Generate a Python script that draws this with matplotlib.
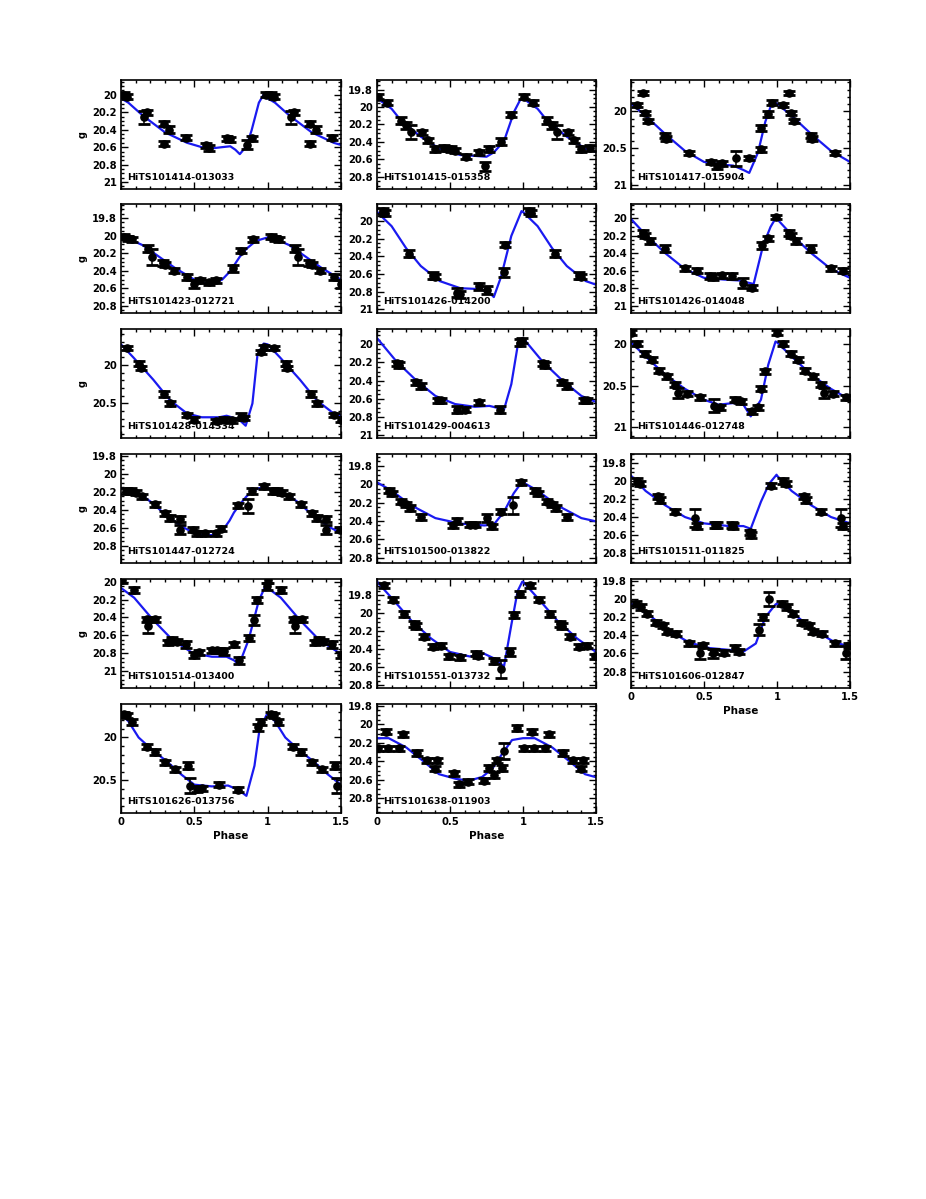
import numpy as np
import matplotlib
matplotlib.use("Agg")
import matplotlib.pyplot as plt
from matplotlib.ticker import MultipleLocator, FuncFormatter

# ---- light curve data (phase in [0,1), g mag, error) + fitted template knots ----
names = ["HiTS101414-013033", "HiTS101415-015358", "HiTS101417-015904",
         "HiTS101423-012721", "HiTS101426-014200", "HiTS101426-014048",
         "HiTS101428-014334", "HiTS101429-004613", "HiTS101446-012748",
         "HiTS101447-012724", "HiTS101500-013822", "HiTS101511-011825",
         "HiTS101514-013400", "HiTS101551-013732", "HiTS101606-012847",
         "HiTS101626-013756", "HiTS101638-011903"]

p01_ph = [0.02, 0.04, 0.16, 0.18, 0.29, 0.29, 0.33, 0.44, 0.58, 0.60, 0.72, 0.74, 0.86, 0.89, 0.99]
p01_mag = [20.00, 20.02, 20.26, 20.20, 20.33, 20.56, 20.40, 20.49, 20.58, 20.61, 20.50, 20.51, 20.57, 20.50, 20.00]
p01_err = [0.03, 0.03, 0.08, 0.03, 0.03, 0.03, 0.04, 0.03, 0.03, 0.03, 0.03, 0.03, 0.05, 0.03, 0.03]
p01_cph = [0.0, 0.05, 0.15, 0.30, 0.45, 0.59, 0.69, 0.745, 0.78, 0.81, 0.855, 0.89, 0.94, 0.975]
p01_cmag = [20.04, 20.09, 20.24, 20.43, 20.55, 20.62, 20.60, 20.59, 20.63, 20.68, 20.59, 20.41, 20.09, 19.99]

p02_ph = [0.01, 0.067, 0.167, 0.20, 0.234, 0.31, 0.35, 0.40, 0.46, 0.51, 0.535, 0.61, 0.70, 0.74, 0.77, 0.85, 0.92]
p02_mag = [19.88, 19.95, 20.16, 20.21, 20.29, 20.29, 20.38, 20.48, 20.47, 20.48, 20.50, 20.57, 20.52, 20.68, 20.48, 20.40, 20.09]
p02_err = [0.03, 0.03, 0.04, 0.04, 0.08, 0.03, 0.03, 0.03, 0.03, 0.03, 0.03, 0.03, 0.03, 0.05, 0.03, 0.04, 0.03]
p02_cph = [0.0, 0.1, 0.167, 0.3, 0.43, 0.57, 0.67, 0.75, 0.80, 0.87, 0.94, 0.98]
p02_cmag = [19.90, 20.02, 20.16, 20.34, 20.48, 20.55, 20.56, 20.57, 20.52, 20.39, 20.05, 19.92]

p03_ph = [0.04, 0.084, 0.094, 0.117, 0.235, 0.24, 0.40, 0.55, 0.59, 0.62, 0.72, 0.805, 0.89, 0.89, 0.94, 0.966]
p03_mag = [19.91, 19.75, 20.02, 20.13, 20.33, 20.37, 20.57, 20.69, 20.75, 20.71, 20.64, 20.64, 20.52, 20.23, 20.03, 19.88]
p03_err = [0.03, 0.03, 0.03, 0.03, 0.03, 0.03, 0.03, 0.03, 0.03, 0.03, 0.10, 0.03, 0.03, 0.04, 0.04, 0.03]
p03_cph = [0.0, 0.117, 0.235, 0.37, 0.5, 0.64, 0.70, 0.77, 0.81, 0.87, 0.92, 0.966]
p03_cmag = [19.89, 20.09, 20.31, 20.54, 20.69, 20.73, 20.74, 20.80, 20.84, 20.56, 20.14, 19.88]

p04_ph = [0.023, 0.05, 0.077, 0.185, 0.21, 0.285, 0.30, 0.36, 0.45, 0.50, 0.54, 0.60, 0.65, 0.765, 0.815, 0.90]
p04_mag = [20.01, 20.03, 20.04, 20.15, 20.24, 20.31, 20.33, 20.40, 20.47, 20.55, 20.51, 20.53, 20.51, 20.37, 20.17, 20.04]
p04_err = [0.03, 0.03, 0.03, 0.04, 0.09, 0.03, 0.03, 0.03, 0.03, 0.04, 0.03, 0.03, 0.03, 0.04, 0.03, 0.03]
p04_cph = [0.0, 0.07, 0.15, 0.285, 0.37, 0.45, 0.52, 0.59, 0.64, 0.69, 0.73, 0.77, 0.81, 0.855, 0.92, 0.98]
p04_cmag = [20.02, 20.05, 20.11, 20.27, 20.37, 20.45, 20.52, 20.55, 20.53, 20.50, 20.43, 20.34, 20.24, 20.15, 20.06, 20.03]

p05_ph = [0.04, 0.055, 0.217, 0.385, 0.40, 0.545, 0.57, 0.70, 0.75, 0.87, 0.88]
p05_mag = [19.89, 19.91, 20.37, 20.62, 20.63, 20.81, 20.83, 20.74, 20.78, 20.58, 20.27]
p05_err = [0.03, 0.03, 0.04, 0.04, 0.03, 0.05, 0.04, 0.04, 0.04, 0.05, 0.03]
p05_cph = [0.0, 0.1, 0.2, 0.3, 0.43, 0.57, 0.70, 0.77, 0.80, 0.85, 0.92, 0.99]
p05_cmag = [19.90, 20.06, 20.31, 20.51, 20.68, 20.76, 20.77, 20.81, 20.86, 20.63, 20.17, 19.89]

p06_ph = [0.084, 0.094, 0.127, 0.235, 0.37, 0.45, 0.54, 0.56, 0.62, 0.69, 0.765, 0.83, 0.90, 0.94, 0.995]
p06_mag = [20.17, 20.20, 20.26, 20.35, 20.57, 20.60, 20.66, 20.67, 20.65, 20.66, 20.74, 20.79, 20.31, 20.23, 19.99]
p06_err = [0.03, 0.03, 0.03, 0.04, 0.03, 0.03, 0.03, 0.03, 0.03, 0.03, 0.06, 0.03, 0.04, 0.03, 0.02]
p06_cph = [0.0, 0.1, 0.235, 0.37, 0.5, 0.64, 0.74, 0.79, 0.84, 0.905, 0.956, 0.995]
p06_cmag = [20.01, 20.19, 20.40, 20.58, 20.68, 20.70, 20.71, 20.73, 20.75, 20.31, 20.10, 19.99]

p07_ph = [0.044, 0.124, 0.134, 0.295, 0.335, 0.45, 0.50, 0.65, 0.70, 0.76, 0.815, 0.84, 0.956, 0.973]
p07_mag = [19.78, 19.98, 20.04, 20.375, 20.50, 20.65, 20.71, 20.73, 20.71, 20.72, 20.67, 20.69, 19.83, 19.77]
p07_err = [0.03, 0.03, 0.03, 0.04, 0.03, 0.03, 0.03, 0.03, 0.03, 0.03, 0.04, 0.03, 0.03, 0.03]
p07_cph = [0.0, 0.084, 0.22, 0.335, 0.45, 0.55, 0.67, 0.72, 0.805, 0.85, 0.896, 0.93, 0.973]
p07_cmag = [19.73, 19.90, 20.19, 20.46, 20.63, 20.68, 20.68, 20.66, 20.71, 20.79, 20.50, 19.875, 19.72]

p08_ph = [0.134, 0.15, 0.27, 0.30, 0.42, 0.435, 0.55, 0.60, 0.70, 0.84, 0.977, 0.995]
p08_mag = [20.21, 20.23, 20.42, 20.46, 20.62, 20.62, 20.72, 20.72, 20.64, 20.72, 19.98, 19.96]
p08_err = [0.03, 0.03, 0.03, 0.03, 0.03, 0.03, 0.04, 0.03, 0.03, 0.04, 0.04, 0.03]
p08_cph = [0.0, 0.134, 0.27, 0.40, 0.535, 0.67, 0.77, 0.87, 0.92, 0.963, 0.995]
p08_cmag = [19.93, 20.19, 20.40, 20.57, 20.66, 20.69, 20.68, 20.72, 20.44, 20.02, 19.93]

p09_ph = [0.0, 0.04, 0.094, 0.144, 0.195, 0.245, 0.30, 0.32, 0.386, 0.47, 0.57, 0.61, 0.71, 0.755, 0.83, 0.87, 0.89, 0.92]
p09_mag = [19.865, 20.0, 20.115, 20.19, 20.32, 20.385, 20.49, 20.59, 20.60, 20.64, 20.74, 20.76, 20.67, 20.69, 20.81, 20.76, 20.54, 20.33]
p09_err = [0.03, 0.03, 0.03, 0.03, 0.03, 0.03, 0.03, 0.06, 0.03, 0.03, 0.08, 0.03, 0.03, 0.03, 0.03, 0.03, 0.03, 0.03]
p09_cph = [0.0, 0.1, 0.235, 0.37, 0.5, 0.60, 0.70, 0.77, 0.82, 0.89, 0.94, 0.99]
p09_cmag = [19.98, 20.15, 20.37, 20.54, 20.67, 20.73, 20.71, 20.73, 20.87, 20.67, 20.25, 19.97]

p10_ph = [0.034, 0.067, 0.10, 0.144, 0.23, 0.30, 0.335, 0.40, 0.40, 0.49, 0.52, 0.57, 0.65, 0.68, 0.80, 0.866, 0.89, 0.973]
p10_mag = [20.19, 20.19, 20.21, 20.25, 20.34, 20.44, 20.49, 20.50, 20.62, 20.62, 20.66, 20.66, 20.66, 20.61, 20.35, 20.36, 20.19, 20.14]
p10_err = [0.03, 0.03, 0.03, 0.03, 0.03, 0.03, 0.03, 0.03, 0.05, 0.03, 0.03, 0.03, 0.03, 0.03, 0.03, 0.08, 0.03, 0.03]
p10_cph = [0.0, 0.07, 0.15, 0.22, 0.285, 0.36, 0.42, 0.49, 0.55, 0.62, 0.705, 0.74, 0.77, 0.81, 0.856, 0.90, 0.94, 0.97]
p10_cmag = [20.16, 20.19, 20.25, 20.33, 20.43, 20.52, 20.59, 20.65, 20.68, 20.68, 20.60, 20.52, 20.43, 20.34, 20.25, 20.19, 20.16, 20.15]

p11_ph = [0.084, 0.10, 0.167, 0.20, 0.227, 0.30, 0.52, 0.55, 0.635, 0.67, 0.75, 0.79, 0.85, 0.93, 0.987]
p11_mag = [20.07, 20.10, 20.19, 20.22, 20.26, 20.36, 20.45, 20.40, 20.44, 20.44, 20.37, 20.46, 20.30, 20.23, 19.98]
p11_err = [0.03, 0.03, 0.03, 0.03, 0.03, 0.03, 0.03, 0.03, 0.03, 0.03, 0.04, 0.03, 0.03, 0.09, 0.03]
p11_cph = [0.0, 0.1, 0.234, 0.4, 0.57, 0.735, 0.80, 0.87, 0.936, 0.995]
p11_cmag = [19.98, 20.07, 20.23, 20.37, 20.43, 20.45, 20.44, 20.30, 20.10, 19.97]

p12_ph = [0.04, 0.06, 0.185, 0.20, 0.30, 0.436, 0.45, 0.577, 0.59, 0.69, 0.70, 0.815, 0.825, 0.956]
p12_mag = [20.0, 20.03, 20.17, 20.21, 20.34, 20.41, 20.50, 20.49, 20.49, 20.49, 20.50, 20.57, 20.60, 20.05]
p12_err = [0.03, 0.03, 0.03, 0.03, 0.03, 0.10, 0.03, 0.03, 0.03, 0.03, 0.03, 0.03, 0.03, 0.03]
p12_cph = [0.0, 0.1, 0.235, 0.37, 0.5, 0.67, 0.77, 0.82, 0.89, 0.946, 0.997]
p12_cmag = [19.94, 20.11, 20.27, 20.40, 20.47, 20.50, 20.50, 20.53, 20.23, 20.03, 19.93]

p13_ph = [0.005, 0.09, 0.18, 0.185, 0.235, 0.32, 0.35, 0.38, 0.44, 0.50, 0.53, 0.62, 0.655, 0.705, 0.77, 0.805, 0.87, 0.905, 0.93, 0.995]
p13_mag = [19.98, 20.095, 20.42, 20.50, 20.42, 20.68, 20.65, 20.67, 20.70, 20.82, 20.79, 20.77, 20.77, 20.78, 20.70, 20.88, 20.63, 20.43, 20.205, 20.05]
p13_err = [0.03, 0.03, 0.03, 0.07, 0.03, 0.03, 0.03, 0.03, 0.04, 0.03, 0.03, 0.03, 0.03, 0.04, 0.03, 0.04, 0.03, 0.06, 0.03, 0.04]
p13_cph = [0.0, 0.09, 0.22, 0.35, 0.49, 0.62, 0.72, 0.77, 0.805, 0.87, 0.94, 0.99]
p13_cmag = [20.07, 20.18, 20.43, 20.65, 20.80, 20.84, 20.84, 20.88, 20.93, 20.65, 20.21, 20.03]

p14_ph = [0.05, 0.11, 0.184, 0.25, 0.27, 0.32, 0.385, 0.435, 0.495, 0.57, 0.68, 0.695, 0.80, 0.85, 0.91, 0.935, 0.977]
p14_mag = [19.69, 19.85, 20.01, 20.12, 20.14, 20.26, 20.37, 20.36, 20.48, 20.49, 20.45, 20.47, 20.53, 20.62, 20.43, 20.02, 19.785]
p14_err = [0.03, 0.03, 0.03, 0.03, 0.03, 0.03, 0.03, 0.03, 0.03, 0.03, 0.03, 0.03, 0.03, 0.10, 0.04, 0.03, 0.03]
p14_cph = [0.0, 0.1, 0.234, 0.37, 0.5, 0.635, 0.735, 0.80, 0.87, 0.92, 0.963, 0.995]
p14_cmag = [19.65, 19.83, 20.08, 20.28, 20.43, 20.48, 20.45, 20.50, 20.59, 20.13, 19.755, 19.65]

p15_ph = [0.034, 0.067, 0.11, 0.168, 0.218, 0.245, 0.31, 0.40, 0.47, 0.49, 0.565, 0.57, 0.64, 0.715, 0.74, 0.88, 0.906, 0.946]
p15_mag = [20.05, 20.09, 20.16, 20.26, 20.29, 20.36, 20.38, 20.49, 20.59, 20.51, 20.60, 20.58, 20.59, 20.54, 20.58, 20.34, 20.20, 20.00]
p15_err = [0.03, 0.03, 0.03, 0.03, 0.03, 0.03, 0.03, 0.03, 0.07, 0.03, 0.05, 0.03, 0.03, 0.03, 0.03, 0.06, 0.03, 0.08]
p15_cph = [0.0, 0.134, 0.27, 0.40, 0.537, 0.67, 0.77, 0.855, 0.92, 0.99]
p15_cmag = [20.05, 20.19, 20.36, 20.48, 20.54, 20.56, 20.58, 20.49, 20.20, 20.06]

p16_ph = [0.023, 0.04, 0.073, 0.175, 0.23, 0.30, 0.37, 0.46, 0.47, 0.515, 0.55, 0.67, 0.80, 0.934, 0.957]
p16_mag = [19.73, 19.74, 19.82, 20.11, 20.17, 20.29, 20.37, 20.33, 20.56, 20.60, 20.59, 20.55, 20.61, 19.88, 19.82]
p16_err = [0.03, 0.03, 0.03, 0.03, 0.03, 0.03, 0.03, 0.04, 0.09, 0.03, 0.03, 0.03, 0.03, 0.04, 0.03]
p16_cph = [0.0, 0.05, 0.12, 0.21, 0.32, 0.41, 0.5, 0.62, 0.73, 0.80, 0.855, 0.91, 0.945, 0.995]
p16_cmag = [19.73, 19.81, 20.00, 20.14, 20.29, 20.43, 20.55, 20.57, 20.56, 20.61, 20.68, 20.33, 19.90, 19.73]

p17_ph = [0.005, 0.061, 0.073, 0.15, 0.175, 0.277, 0.345, 0.40, 0.41, 0.527, 0.56, 0.62, 0.73, 0.765, 0.80, 0.82, 0.857, 0.87, 0.96]
p17_mag = [20.26, 20.08, 20.26, 20.26, 20.11, 20.31, 20.39, 20.48, 20.39, 20.53, 20.65, 20.62, 20.61, 20.47, 20.55, 20.39, 20.47, 20.29, 20.04]
p17_err = [0.03, 0.03, 0.03, 0.03, 0.03, 0.03, 0.03, 0.03, 0.03, 0.03, 0.03, 0.03, 0.03, 0.03, 0.03, 0.03, 0.03, 0.09, 0.03]
p17_cph = [0.0, 0.08, 0.2, 0.31, 0.425, 0.54, 0.63, 0.72, 0.79, 0.857, 0.925, 1.0]
p17_cmag = [20.15, 20.15, 20.25, 20.39, 20.54, 20.59, 20.61, 20.57, 20.48, 20.32, 20.17, 20.15]

# y ranges (faint, bright) and major tick step per panel
y_ranges = [(21.08, 19.83), (20.94, 19.69), (21.06, 19.57), (20.88, 19.64), (21.04, 19.81),
            (21.08, 19.84), (20.95, 19.53), (21.035, 19.83), (21.13, 19.82), (20.99, 19.78),
            (20.86, 19.67), (20.91, 19.70), (21.19, 19.97), (20.83, 19.62), (20.98, 19.78),
            (20.88, 19.61), (20.96, 19.78)]
y_steps = [0.2, 0.2, 0.5, 0.2, 0.2, 0.2, 0.5, 0.2, 0.5, 0.2, 0.2, 0.2, 0.2, 0.2, 0.2, 0.5, 0.2]

panels = [
    (p01_ph, p01_mag, p01_err, p01_cph, p01_cmag), (p02_ph, p02_mag, p02_err, p02_cph, p02_cmag),
    (p03_ph, p03_mag, p03_err, p03_cph, p03_cmag), (p04_ph, p04_mag, p04_err, p04_cph, p04_cmag),
    (p05_ph, p05_mag, p05_err, p05_cph, p05_cmag), (p06_ph, p06_mag, p06_err, p06_cph, p06_cmag),
    (p07_ph, p07_mag, p07_err, p07_cph, p07_cmag), (p08_ph, p08_mag, p08_err, p08_cph, p08_cmag),
    (p09_ph, p09_mag, p09_err, p09_cph, p09_cmag), (p10_ph, p10_mag, p10_err, p10_cph, p10_cmag),
    (p11_ph, p11_mag, p11_err, p11_cph, p11_cmag), (p12_ph, p12_mag, p12_err, p12_cph, p12_cmag),
    (p13_ph, p13_mag, p13_err, p13_cph, p13_cmag), (p14_ph, p14_mag, p14_err, p14_cph, p14_cmag),
    (p15_ph, p15_mag, p15_err, p15_cph, p15_cmag), (p16_ph, p16_mag, p16_err, p16_cph, p16_cmag),
    (p17_ph, p17_mag, p17_err, p17_cph, p17_cmag),
]

W, H = 926, 1199
plt.rcParams['font.family'] = ['DejaVu Sans']
plt.rcParams['font.weight'] = 'bold'

fig = plt.figure(figsize=(W / 100, H / 100), dpi=100)

lefts = [121, 377, 631]
widths = [220, 219, 219]
tops = [80, 204, 329, 454, 579, 704]
ax_h = 109
blue = '#1a1af0'


def fmt_mag(v, pos):
    return f"{round(v, 2):g}"


for i, (ph, mag, err, cph, cmag) in enumerate(panels):
    row, col = divmod(i, 3)
    ax = fig.add_axes([lefts[col] / W, 1 - (tops[row] + ax_h) / H, widths[col] / W, ax_h / H])

    ph = np.array(ph); mag = np.array(mag); err = np.array(err)
    cph = np.array(cph); cmag = np.array(cmag)

    # template repeated over 1.5 cycles
    ax.plot(np.concatenate([cph, cph + 1]), np.concatenate([cmag, cmag]),
            color=blue, lw=1.6, zorder=2)

    # data shown at phase and phase+1 (up to 1.5)
    rep = ph + 1 <= 1.5
    x = np.concatenate([ph, ph[rep] + 1])
    y = np.concatenate([mag, mag[rep]])
    e = np.concatenate([err, err[rep]])
    ax.errorbar(x, y, yerr=e, fmt='o', ms=5.2, color='black', ecolor='black',
                elinewidth=1.1, capsize=4, capthick=2.0, zorder=3)

    ax.set_xlim(0, 1.5)
    ax.set_ylim(*y_ranges[i])
    ax.xaxis.set_major_locator(MultipleLocator(0.5))
    ax.xaxis.set_minor_locator(MultipleLocator(0.1))
    ax.yaxis.set_major_locator(MultipleLocator(y_steps[i]))
    ax.yaxis.set_minor_locator(MultipleLocator(0.05 if y_steps[i] == 0.2 else 0.1))
    ax.yaxis.set_major_formatter(FuncFormatter(fmt_mag))
    ax.tick_params(which='both', direction='in', top=True, right=True, width=1.0,
                   labelsize=7.2, pad=3)
    ax.tick_params(which='major', length=5)
    ax.tick_params(which='minor', length=2.5)
    for s in ax.spines.values():
        s.set_linewidth(1.2)

    bottom_panel = (row == 5) or (row == 4 and col == 2)
    if bottom_panel:
        ax.xaxis.set_major_formatter(FuncFormatter(lambda v, p: f"{v:g}"))
        ax.set_xlabel("Phase", fontsize=7.5, fontweight='bold', labelpad=3)
    else:
        ax.set_xticklabels([])

    ax.text(0.03, 0.06, names[i], transform=ax.transAxes, fontsize=6.8,
            fontweight='bold', ha='left', va='bottom')

    # magnitude axis title, kept clear of the tick labels
    if col == 0 and row < 5:
        fig.text(83 / W, 1 - (tops[row] + ax_h / 2) / H, 'g', rotation=90,
                 fontsize=7, fontweight='bold', ha='center', va='center')

fig.savefig("out.png", dpi=100)
